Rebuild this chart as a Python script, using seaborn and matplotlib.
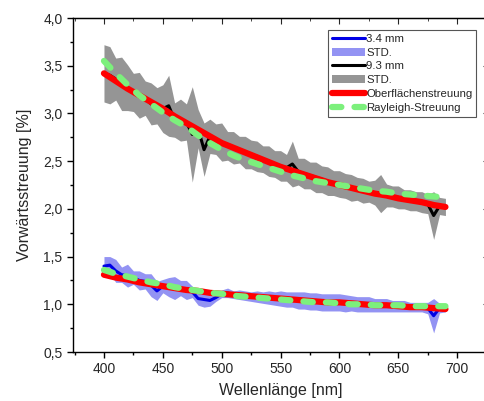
import numpy as np
import pandas as pd
import seaborn as sns
import matplotlib.pyplot as plt
from matplotlib.lines import Line2D
from matplotlib.patches import Patch

# measured data (5 nm steps)
wl_meas = [400, 405, 410, 415, 420, 425, 430, 435, 440, 445, 450, 455, 460, 465, 470,
           475, 480, 485, 490, 495, 500, 505, 510, 515, 520, 525, 530, 535, 540, 545,
           550, 555, 560, 565, 570, 575, 580, 585, 590, 595, 600, 605, 610, 615, 620,
           625, 630, 635, 640, 645, 650, 655, 660, 665, 670, 675, 680, 685, 690]

mean_93 = [3.42, 3.40, 3.36, 3.31, 3.27, 3.22, 3.19, 3.16, 3.10, 3.08, 3.05, 3.08, 2.93, 2.93, 2.91,
           2.78, 2.84, 2.62, 2.76, 2.73, 2.70, 2.66, 2.64, 2.62, 2.59, 2.57, 2.55, 2.52, 2.50, 2.47,
           2.45, 2.43, 2.47, 2.39, 2.37, 2.35, 2.33, 2.31, 2.29, 2.27, 2.26, 2.24, 2.22, 2.21, 2.19,
           2.18, 2.17, 2.16, 2.14, 2.13, 2.12, 2.10, 2.09, 2.08, 2.07, 2.05, 1.93, 2.03, 2.02]
std_93 = [0.30, 0.30, 0.22, 0.28, 0.24, 0.20, 0.24, 0.18, 0.22, 0.19, 0.25, 0.32, 0.18, 0.22, 0.19,
          0.50, 0.20, 0.28, 0.18, 0.16, 0.20, 0.15, 0.17, 0.14, 0.17, 0.15, 0.16, 0.14, 0.16, 0.14,
          0.16, 0.14, 0.24, 0.14, 0.16, 0.14, 0.16, 0.14, 0.15, 0.13, 0.14, 0.13, 0.14, 0.12, 0.13,
          0.11, 0.13, 0.20, 0.12, 0.11, 0.12, 0.10, 0.11, 0.10, 0.11, 0.10, 0.25, 0.09, 0.09]

mean_34 = [1.40, 1.41, 1.35, 1.31, 1.30, 1.28, 1.25, 1.24, 1.20, 1.14, 1.19, 1.18, 1.17, 1.17, 1.15,
           1.13, 1.06, 1.05, 1.04, 1.07, 1.11, 1.12, 1.10, 1.10, 1.09, 1.08, 1.08, 1.07, 1.07, 1.06,
           1.06, 1.05, 1.05, 1.04, 1.04, 1.03, 1.03, 1.02, 1.02, 1.02, 1.02, 1.01, 1.01, 1.00, 1.00,
           1.00, 0.99, 0.99, 0.99, 0.98, 0.98, 0.98, 0.97, 0.97, 0.97, 0.96, 0.88, 0.96, 0.96]
std_34 = [0.10, 0.09, 0.12, 0.08, 0.12, 0.07, 0.10, 0.08, 0.12, 0.10, 0.07, 0.10, 0.12, 0.08, 0.10,
          0.06, 0.07, 0.08, 0.06, 0.04, 0.04, 0.05, 0.04, 0.05, 0.05, 0.05, 0.06, 0.06, 0.07, 0.07,
          0.08, 0.08, 0.08, 0.09, 0.09, 0.09, 0.09, 0.09, 0.09, 0.09, 0.09, 0.09, 0.08, 0.08, 0.08,
          0.08, 0.07, 0.07, 0.07, 0.06, 0.06, 0.06, 0.05, 0.05, 0.05, 0.06, 0.18, 0.05, 0.04]

# model curves (10 nm steps)
wl_fit = [400, 410, 420, 430, 440, 450, 460, 470, 480, 490, 500, 510, 520, 530, 540,
          550, 560, 570, 580, 590, 600, 610, 620, 630, 640, 650, 660, 670, 680, 690]
surf_93 = [3.42, 3.34, 3.26, 3.19, 3.12, 3.05, 2.97, 2.90, 2.83, 2.76, 2.69, 2.64, 2.59, 2.54, 2.49,
           2.44, 2.40, 2.36, 2.32, 2.28, 2.25, 2.22, 2.19, 2.16, 2.14, 2.11, 2.09, 2.07, 2.04, 2.02]
rayl_93 = [3.55, 3.42, 3.30, 3.19, 3.10, 3.01, 2.93, 2.86, 2.77, 2.69, 2.62, 2.56, 2.51, 2.47, 2.43,
           2.39, 2.35, 2.32, 2.29, 2.27, 2.25, 2.23, 2.21, 2.19, 2.18, 2.16, 2.15, 2.14, 2.13, 2.12]
surf_34 = [1.31, 1.28, 1.26, 1.23, 1.21, 1.19, 1.17, 1.15, 1.14, 1.12, 1.11, 1.10, 1.09, 1.08, 1.07,
           1.06, 1.05, 1.04, 1.03, 1.02, 1.02, 1.01, 1.00, 0.99, 0.99, 0.98, 0.97, 0.97, 0.96, 0.95]
rayl_34 = [1.36, 1.32, 1.29, 1.26, 1.23, 1.21, 1.18, 1.16, 1.14, 1.12, 1.11, 1.09, 1.08, 1.07, 1.06,
           1.05, 1.04, 1.03, 1.02, 1.02, 1.01, 1.00, 1.00, 0.99, 0.99, 0.99, 0.98, 0.98, 0.98, 0.98]

sns.set_style("ticks")
plt.rcParams['font.family'] = ['Liberation Sans', 'DejaVu Sans']

fig = plt.figure(figsize=(4.85, 4.01), dpi=100)
# right spine sits just outside the picture, like in the original crop
ax = fig.add_axes([73 / 485, 49 / 401, 416 / 485, 334 / 401])

c_blue = "#0000e6"
c_blue_band = "#9393f3"
c_grey_band = "#959595"
c_red = "#ff0000"
c_green = "#7cf07c"
green_dash = (0, (1.5, 2.1))

m93 = np.array(mean_93)
s93 = np.array(std_93)
m34 = np.array(mean_34)
s34 = np.array(std_34)

ax.fill_between(wl_meas, m93 - s93, m93 + s93, color=c_grey_band, lw=0, zorder=1)
sns.lineplot(x=wl_meas, y=mean_93, color="black", lw=2.2, ax=ax, zorder=2)
ax.fill_between(wl_meas, m34 - s34, m34 + s34, color=c_blue_band, lw=0, zorder=1)
sns.lineplot(x=wl_meas, y=mean_34, color=c_blue, lw=2.2, ax=ax, zorder=2)

for surf, rayl in [(surf_93, rayl_93), (surf_34, rayl_34)]:
    sns.lineplot(x=wl_fit, y=surf, color=c_red, lw=4.5, ax=ax, zorder=3)
    sns.lineplot(x=wl_fit, y=rayl, color=c_green, lw=4.5, ax=ax, zorder=4,
                 linestyle=green_dash, dash_capstyle="round")

ax.set_xlim(373.7, 727)
ax.set_ylim(0.5, 4.0)
xt = [400, 450, 500, 550, 600, 650, 700]
xt_minor = np.arange(375, 725, 25)
yt = [0.5, 1.0, 1.5, 2.0, 2.5, 3.0, 3.5, 4.0]
yt_minor = np.arange(0.5, 4.01, 0.25)
ax.set_xticks(xt)
ax.set_xticks(xt_minor, minor=True)
ax.set_yticks(yt)
ax.set_yticklabels([f"{v:.1f}".replace(".", ",") for v in yt])
ax.set_yticks(yt_minor, minor=True)

ax.tick_params(axis="both", which="both", direction="out", labelsize=10, color="black",
               top=False, right=False)
ax.tick_params(axis="both", which="major", length=4, width=1)
ax.tick_params(axis="both", which="minor", length=2.5, width=1)

# mirrored ticks on top and right point inward
sec_x = ax.secondary_xaxis("top")
sec_x.set_xticks(xt, labels=[])
sec_x.set_xticks(xt_minor, minor=True)
sec_x.tick_params(which="both", direction="in", length=4)
sec_x.tick_params(which="minor", length=2.5)
sec_y = ax.secondary_yaxis("right")
sec_y.set_yticks(yt, labels=[])
sec_y.set_yticks(yt_minor, minor=True)
sec_y.tick_params(which="both", direction="in", length=4)
sec_y.tick_params(which="minor", length=2.5)
for sp in ax.spines.values():
    sp.set_linewidth(1)
    sp.set_color("black")

ax.set_xlabel("Wellenlänge [nm]", fontsize=11.5, labelpad=5)
ax.set_ylabel("Vorwärtsstreuung [%]", fontsize=11.5, labelpad=8)

handles = [
    Line2D([], [], color=c_blue, lw=2.2),
    Patch(facecolor=c_blue_band, edgecolor="none"),
    Line2D([], [], color="black", lw=2.2),
    Patch(facecolor=c_grey_band, edgecolor="none"),
    Line2D([], [], color=c_red, lw=4.5),
    Line2D([], [], color=c_green, lw=4.5, linestyle=green_dash, dash_capstyle="round"),
]
labels = ["3.4 mm", "STD.", "9.3 mm", "STD.", "Oberflächenstreuung", "Rayleigh-Streuung"]
leg = ax.legend(handles, labels, loc="upper right", bbox_to_anchor=(0.969, 0.964),
                borderaxespad=0, fontsize=8.2, frameon=True, fancybox=False,
                handlelength=2.9, handletextpad=0.1, labelspacing=0.34,
                borderpad=0.32, framealpha=1)
leg.get_frame().set_edgecolor("#555555")
leg.get_frame().set_linewidth(0.8)

fig.savefig("out.png", dpi=100)
